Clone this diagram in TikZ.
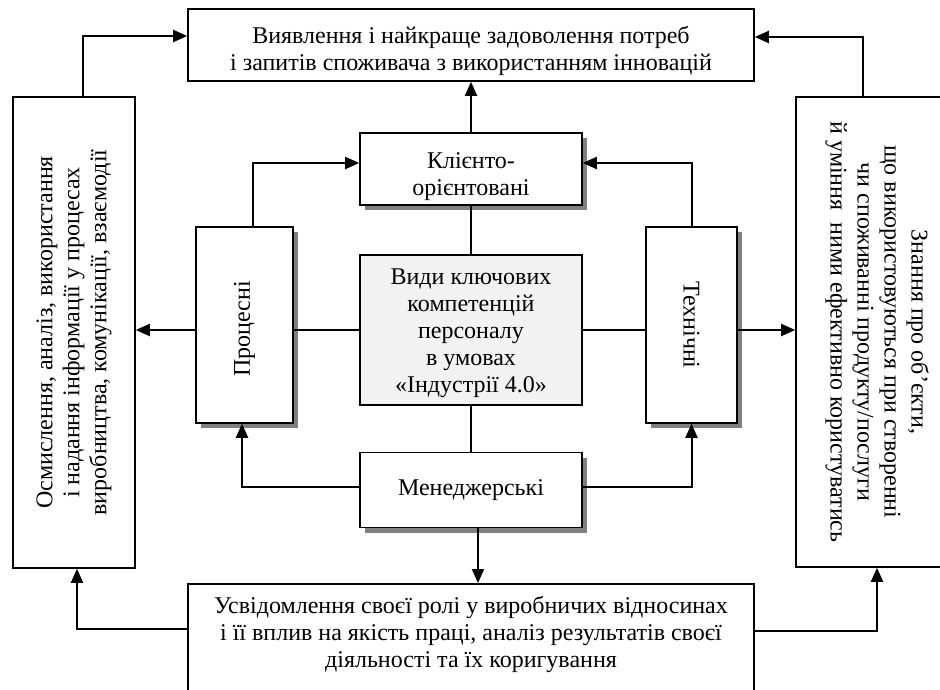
\documentclass[tikz,border=0pt]{standalone}
\usepackage{fontspec}
\setmainfont{Liberation Serif}
\usepackage{tikz}
\usetikzlibrary{arrows.meta}
\usetikzlibrary{positioning,shadows}

\begin{document}
\begin{tikzpicture}[
x=1pt,y=-1pt,
MyBox/.style={draw=black,line width=1.6pt,fill=white,align=center,inner sep=0pt},
ShadowBox/.style={MyBox,drop shadow={shadow xshift=5pt,shadow yshift=-5pt,fill=black!50,opacity=1}},
MyArrow/.style={-{Triangle[length=14pt,width=12pt]},line width=2pt},
MyLine/.style={line width=2pt},
every node/.style={font=\fontsize{24}{27}\selectfont}
]
%\draw[gray,dotted,step=50] (0,0) grid (940,690);
\useasboundingbox (0,0) rectangle (940,690);
\clip (0,0) rectangle (940,690);

\node[MyBox, minimum width=566pt, minimum height=72pt] (Top) at (471,45) {\rule{0pt}{29pt}Виявлення і найкраще задоволення потреб\\ і запитів споживача з використанням інновацій};

\node[ShadowBox, minimum width=222pt, minimum height=72pt] (Klient) at (471,169) {\rule{0pt}{32pt}Клієнто-\\ орієнтовані};

\node[MyBox, fill=black!5, minimum width=222pt, minimum height=150pt] (Kind) at (471,330) {\rule{0pt}{22pt}Види ключових\\ компетенцій\\ персоналу\\ в умовах\\ «Індустрії 4.0»};

\node[ShadowBox, minimum width=222pt, minimum height=75pt] (Manager) at (471,490) {Менеджерські};

\node[ShadowBox, minimum width=97pt, minimum height=196pt] (Proc) at (244.5,325) {};
\node[rotate=90] (ProcText) at ([yshift=-4pt]Proc.center) {Процесні};

\node[ShadowBox, minimum width=91pt, minimum height=196pt] (Tech) at (691.5,325) {};
\node[rotate=-90] (TechText) at (Tech.center) {Технічні};

\node[MyBox, minimum width=122pt, minimum height=471pt] (LeftBox) at (74,332.5) {};
\node[rotate=90, align=center] (LeftText) at (LeftBox.center) {Осмислення, аналіз, використання\\ і надання інформації у процесах\\ виробництва, комунікації, взаємодії};

\node[MyBox, minimum width=162pt, minimum height=470pt] (RightBox) at (877,332) {};
\node[rotate=-90, align=center] (RightText) at (RightBox.center) {Знання про об’єкти,\\ що використовуються при створенні\\ чи споживанні продукту/послуги\\ й уміння\ \ ними ефективно користуватись};

\node[MyBox, anchor=north, minimum width=566pt, inner sep=13pt] (Bottom) at (471,583) {\parbox[t][110pt][t]{540pt}{\centering Усвідомлення своєї ролі у виробничих відносинах\\ і її вплив на якість праці, аналіз результатів своєї\\ діяльності та їх коригування}};

\draw[MyArrow] ([xshift=9pt]LeftBox.north) |- ([yshift=9pt]Top.west);
\draw[MyArrow] ([xshift=-14pt]RightBox.north) |- ([yshift=8pt]Top.east);
\draw[MyArrow] (Klient.north) -- (Top.south);
\draw[MyArrow] ([xshift=8pt]Proc.north) |- ([yshift=6pt]Klient.west);
\draw[MyArrow] (Tech.north) |- ([yshift=6pt]Klient.east);
\draw[MyLine] (Klient.south) -- (Kind.north);

\draw[MyLine] (Kind.west) -- (Proc.east |- Kind.west);
\draw[MyArrow] (Proc.west |- Kind.west) -- (LeftBox.east |- Kind.west);
\draw[MyLine] (Kind.east) -- (Tech.west |- Kind.east);
\draw[MyArrow] (Tech.east |- Kind.east) -- (RightBox.west |- Kind.east);

\draw[MyLine] (Kind.south) -- (Manager.north);
\draw[MyArrow] ([yshift=3pt]Manager.west) -| ([xshift=-2.5pt]Proc.south);
\draw[MyArrow] ([yshift=3pt]Manager.east) -| (Tech.south);
\draw[MyArrow] ([xshift=7pt]Manager.south) -- ([xshift=7pt]Bottom.north);

\draw[MyArrow] ([yshift=-46pt]Bottom.north west) -| ([xshift=3pt]LeftBox.south);
\draw[MyArrow] ([yshift=-48pt]Bottom.north east) -| (RightBox.south);

\end{tikzpicture}
\end{document}
